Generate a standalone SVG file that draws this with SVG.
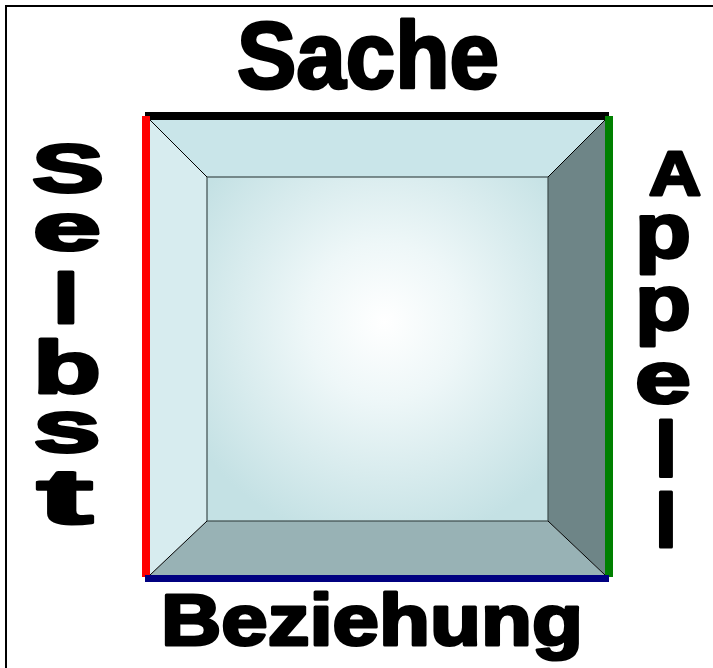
<svg xmlns="http://www.w3.org/2000/svg" width="713" height="668" viewBox="0 0 713 668">
<style>
.lbl{font-family:"Liberation Sans",Arial,sans-serif;font-weight:bold;fill:#000;stroke:#000;stroke-width:3;stroke-linejoin:round;text-anchor:middle}
.edge{stroke:#000;stroke-width:1;fill:none}
</style>
<defs>
<radialGradient id="face" cx="0.52" cy="0.42" r="0.65">
<stop offset="0" stop-color="#ffffff"/>
<stop offset="0.35" stop-color="#eef7f8"/>
<stop offset="1" stop-color="#c4e1e4"/>
</radialGradient>
</defs>
<rect x="6" y="6" width="730" height="700" fill="#fff" stroke="#000" stroke-width="2"/>
<g id="box">
<polygon points="150,120 605,120 548,177 207,177" fill="#c9e5e9"/>
<polygon points="150,120 207,177 207,521 150,575" fill="#d7ecef"/>
<polygon points="605,120 605,575 548,521 548,177" fill="#6e8587"/>
<polygon points="150,575 207,521 548,521 605,575" fill="#98b2b5"/>
<rect x="207" y="177" width="341" height="344" fill="url(#face)" stroke="#3d4b4c" stroke-width="1.2"/>
<g class="edge">
<line x1="150" y1="120" x2="207" y2="177"/>
<line x1="605" y1="120" x2="548" y2="177"/>
<line x1="150" y1="575" x2="207" y2="521"/>
<line x1="605" y1="575" x2="548" y2="521"/>
</g>
</g>
<g id="sides">
<rect x="145" y="112" width="464" height="8" fill="#000"/>
<rect x="142" y="116" width="8" height="461" fill="#f00"/>
<rect x="605" y="116" width="8" height="461" fill="#008000"/>
<rect x="145" y="575" width="464" height="7" fill="#000080"/>
</g>
<g id="sache"><text class="lbl" x="368" y="88" font-size="94" textLength="262" lengthAdjust="spacingAndGlyphs">Sache</text></g>
<g id="beziehung"><text class="lbl" x="372" y="645" font-size="72" textLength="422" lengthAdjust="spacingAndGlyphs">Beziehung</text></g>
<g id="selbst">
<text class="lbl" x="68" y="192" font-size="68" textLength="72" lengthAdjust="spacingAndGlyphs">S</text>
<text class="lbl" x="67" y="250" font-size="66" textLength="68" lengthAdjust="spacingAndGlyphs">e</text>
<text class="lbl" x="66" y="323" font-size="70" textLength="26" lengthAdjust="spacingAndGlyphs">l</text>
<text class="lbl" x="67" y="393" font-size="74" textLength="68" lengthAdjust="spacingAndGlyphs">b</text>
<text class="lbl" x="67" y="452" font-size="74" textLength="68" lengthAdjust="spacingAndGlyphs">s</text>
<text class="lbl" x="65" y="523" font-size="78" textLength="56" lengthAdjust="spacingAndGlyphs">t</text>
</g>
<g id="appell">
<text class="lbl" x="675" y="195" font-size="63" textLength="52" lengthAdjust="spacingAndGlyphs">A</text>
<text class="lbl" x="663" y="258" font-size="78" textLength="56" lengthAdjust="spacingAndGlyphs">p</text>
<text class="lbl" x="663" y="330" font-size="78" textLength="56" lengthAdjust="spacingAndGlyphs">p</text>
<text class="lbl" x="663" y="403" font-size="75" textLength="56" lengthAdjust="spacingAndGlyphs">e</text>
<text class="lbl" x="666" y="477" font-size="77" textLength="22" lengthAdjust="spacingAndGlyphs">l</text>
<text class="lbl" x="666" y="547" font-size="76" textLength="22" lengthAdjust="spacingAndGlyphs">l</text>
</g>
</svg>
